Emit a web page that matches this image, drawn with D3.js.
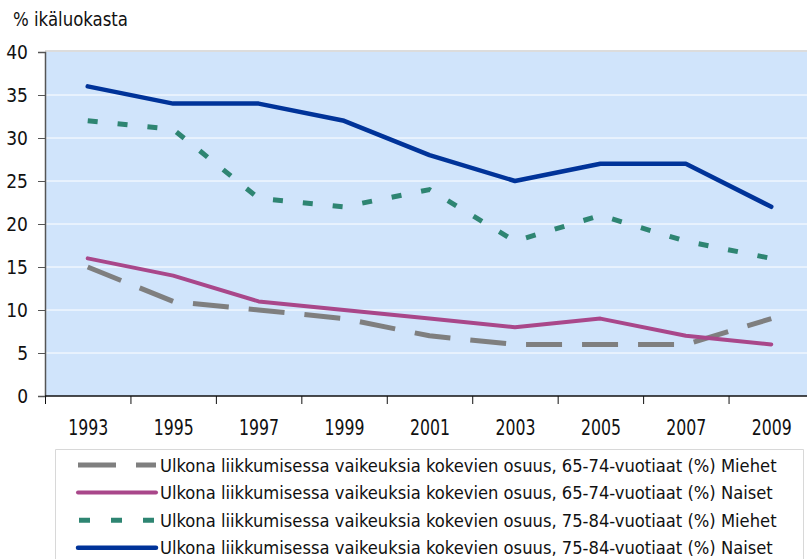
<!DOCTYPE html>
<html>
<head>
<meta charset="utf-8">
<script src="https://cdn.jsdelivr.net/npm/d3@7"></script>
<style>
  body { margin: 0; background: #fff; }
  svg { display: block; overflow: hidden; }
  text { font-family: "DejaVu Sans Condensed", "Liberation Sans Narrow", sans-serif; fill: #111; }
</style>
</head>
<body>
<div id="chart"></div>
<script>
// DATA
// ---------------------------------------------------------------------------------------------------------------------------------
const years = ["1993", "1995", "1997", "1999", "2001", "2003", "2005", "2007", "2009"];
const miehet6574 = [15, 11, 10, 9, 7, 6, 6, 6, 9];
const naiset6574 = [16, 14, 11, 10, 9, 8, 9, 7, 6];
const miehet7584 = [32, 31, 23, 22, 24, 18, 21, 18, 16];
const naiset7584 = [36, 34, 34, 32, 28, 25, 27, 27, 22];
const yTicks = [0, 5, 10, 15, 20, 25, 30, 35, 40];
const labels = [
  "Ulkona liikkumisessa vaikeuksia kokevien osuus, 65-74-vuotiaat (%) Miehet",
  "Ulkona liikkumisessa vaikeuksia kokevien osuus, 65-74-vuotiaat (%) Naiset",
  "Ulkona liikkumisessa vaikeuksia kokevien osuus, 75-84-vuotiaat (%) Miehet",
  "Ulkona liikkumisessa vaikeuksia kokevien osuus, 75-84-vuotiaat (%) Naiset"
];

const series = [
  { name: labels[0], values: miehet6574, color: "#7f7f7f", width: 5, dash: "36,20" },
  { name: labels[1], values: naiset6574, color: "#a9478a", width: 4, dash: null },
  { name: labels[2], values: miehet7584, color: "#2e8572", width: 5, dash: "10,20" },
  { name: labels[3], values: naiset7584, color: "#003399", width: 4.5, dash: null }
];

// SCALES
// ---------------------------------------------------------------------------------------------------------------------------------
const W = 807, H = 559;
const plot = { left: 45, right: 814, top: 52, bottom: 396 };

const x = d3.scalePoint(years, [plot.left, plot.right]).padding(0.5);
const xEdge = d3.scaleLinear([0, years.length], [plot.left, plot.right]);
const y = d3.scaleLinear([0, 40], [plot.bottom, plot.top]);

const svg = d3.select("#chart").append("svg")
  .attr("width", W)
  .attr("height", H);

// PLOT BACKGROUND + GRID
// ---------------------------------------------------------------------------------------------------------------------------------
svg.append("rect")
  .attr("x", plot.left).attr("y", plot.top - 2)
  .attr("width", W - plot.left).attr("height", 2)
  .style("fill", "#dcdcdc");

svg.append("rect")
  .attr("x", plot.left).attr("y", plot.top)
  .attr("width", W - plot.left).attr("height", plot.bottom - plot.top)
  .style("fill", "#d0e4fb");

svg.append("g")
  .selectAll("line")
  .data(yTicks.filter(d => d > 0 && d < 40))
  .enter()
  .append("line")
  .attr("x1", plot.left).attr("x2", W)
  .attr("y1", d => y(d)).attr("y2", d => y(d))
  .style("stroke", "#ffffff")
  .style("stroke-width", 1);

// LINES
// ---------------------------------------------------------------------------------------------------------------------------------
const line = d3.line()
  .x((d, i) => x(years[i]))
  .y(d => y(d));

series.forEach(s => {
  svg.append("path")
    .datum(s.values)
    .attr("d", line)
    .style("fill", "none")
    .style("stroke", s.color)
    .style("stroke-width", s.width)
    .style("stroke-linecap", s.dash ? "butt" : "round")
    .style("stroke-linejoin", "round")
    .style("stroke-dasharray", s.dash);
});

// AXES
// ---------------------------------------------------------------------------------------------------------------------------------
const yAxis = svg.append("g")
  .attr("transform", `translate(${plot.left},0)`)
  .call(d3.axisLeft(y).tickValues(yTicks).tickSize(7).tickPadding(10));
yAxis.select(".domain").style("stroke", "#555").style("stroke-width", 1.5);
yAxis.selectAll(".tick line").style("stroke", "#555");
yAxis.selectAll("text").style("font-size", "19px").style("fill", "#111");

const xTicks = svg.append("g")
  .attr("transform", `translate(0,${plot.bottom})`)
  .call(d3.axisBottom(xEdge).tickValues(d3.range(0, years.length)).tickFormat("").tickSize(8).tickSizeOuter(0));
xTicks.select(".domain").remove();
xTicks.selectAll(".tick line").style("stroke", "#111");

svg.append("line")
  .attr("x1", plot.left).attr("x2", W)
  .attr("y1", plot.bottom).attr("y2", plot.bottom)
  .style("stroke", "#111").style("stroke-width", 1.5);

const xLabels = svg.append("g")
  .attr("transform", `translate(0,${plot.bottom})`)
  .call(d3.axisBottom(x).tickSize(0).tickPadding(24));
xLabels.select(".domain").remove();
xLabels.selectAll("text")
  .style("font-size", "21px")
  .style("fill", "#111")
  .attr("textLength", 40)
  .attr("lengthAdjust", "spacingAndGlyphs");

// TITLE
// ---------------------------------------------------------------------------------------------------------------------------------
svg.append("text")
  .attr("x", 13).attr("y", 26)
  .style("font-size", "19px")
  .attr("textLength", 115)
  .attr("lengthAdjust", "spacingAndGlyphs")
  .text("% ikäluokasta");

// LEGEND
// ---------------------------------------------------------------------------------------------------------------------------------
svg.append("path")
  .attr("d", `M55.5,${H}V449.5H803.5V${H}`)
  .style("fill", "#fff")
  .style("stroke", "#d8d8d8");

const leg = svg.append("g")
  .selectAll("g")
  .data(series)
  .enter()
  .append("g")
  .attr("transform", (d, i) => `translate(0,${465 + i * 27.6})`);

leg.append("line")
  .attr("x1", (d, i) => i === 2 ? 79 : 78).attr("x2", 156)
  .attr("y1", 0).attr("y2", 0)
  .style("stroke", d => d.color)
  .style("stroke-width", d => d.width)
  .style("stroke-linecap", d => d.dash ? "butt" : "round")
  .style("stroke-dasharray", (d, i) => i === 0 ? "38,20" : i === 2 ? "11,21" : null);

leg.append("text")
  .attr("x", 160).attr("y", 6.5)
  .style("font-size", "18.2px")
  .text(d => d.name);
</script>
</body>
</html>
